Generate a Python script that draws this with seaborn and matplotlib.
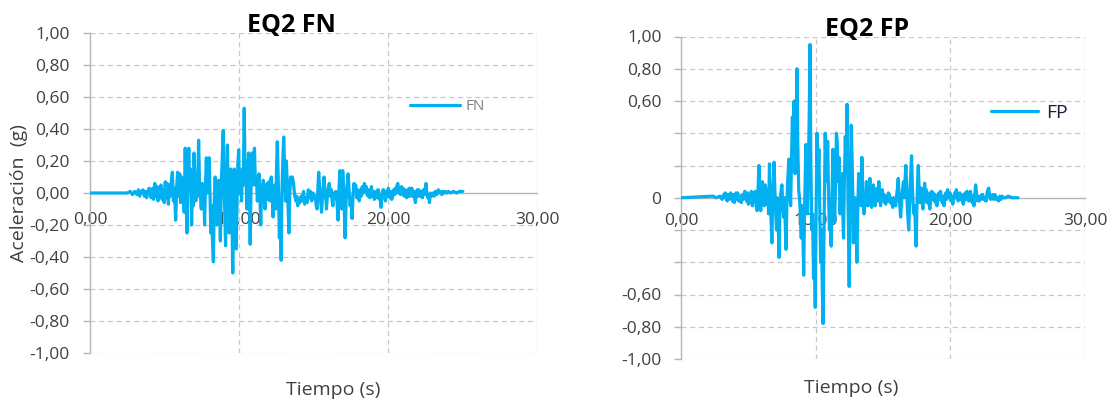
import matplotlib
matplotlib.use("Agg")
import matplotlib.pyplot as plt
import seaborn as sns
import pandas as pd

# Fault-normal record: time (s) and acceleration (g)
fn_time = [0.00, 2.50, 2.70, 2.85, 3.00, 3.15, 3.25, 3.33, 3.45, 3.56, 3.65, 3.72, 3.80, 3.90, 3.96,
           4.03, 4.10, 4.20, 4.27, 4.35, 4.42, 4.50, 4.56, 4.63, 4.70, 4.76, 4.84, 4.91, 4.98,
           5.05, 5.12, 5.18, 5.26, 5.33, 5.40, 5.47, 5.53, 5.60, 5.66, 5.75, 5.82, 5.88, 5.95,
           6.02, 6.08, 6.14, 6.20, 6.26, 6.32, 6.39, 6.45, 6.51, 6.57, 6.63, 6.69, 6.75, 6.82,
           6.88, 6.93, 6.98, 7.04, 7.10, 7.16, 7.22, 7.29, 7.35, 7.41, 7.47, 7.53, 7.57, 7.63,
           7.69, 7.75, 7.81, 7.86, 7.92, 8.00, 8.06, 8.11, 8.17, 8.22, 8.28, 8.34, 8.40, 8.46,
           8.51, 8.57, 8.63, 8.69, 8.75, 8.81, 8.87, 8.94, 9.00, 9.05, 9.10, 9.16, 9.22, 9.28,
           9.34, 9.40, 9.46, 9.52, 9.58, 9.63, 9.69, 9.75, 9.81, 9.87, 9.92, 9.98, 10.04, 10.10,
           10.17, 10.23, 10.29, 10.35, 10.41, 10.46, 10.52, 10.58, 10.64, 10.70, 10.75, 10.81,
           10.87, 10.93, 10.98, 11.04, 11.10, 11.17, 11.23, 11.29, 11.34, 11.40, 11.46, 11.52,
           11.58, 11.63, 11.69, 11.75, 11.82, 11.89, 11.95, 12.00, 12.06, 12.12, 12.17, 12.23,
           12.29, 12.35, 12.41, 12.47, 12.52, 12.57, 12.63, 12.68, 12.71, 12.77, 12.83, 12.88,
           12.94, 13.00, 13.06, 13.12, 13.18, 13.24, 13.30, 13.35, 13.41, 13.46, 13.51, 13.58,
           13.66, 13.74, 13.82, 13.88, 13.94, 14.00, 14.08, 14.17, 14.25, 14.33, 14.41, 14.49,
           14.57, 14.65, 14.73, 14.80, 14.88, 14.96, 15.04, 15.12, 15.18, 15.24, 15.30, 15.35,
           15.42, 15.48, 15.54, 15.60, 15.66, 15.71, 15.78, 15.84, 15.87, 15.93, 16.00, 16.06,
           16.13, 16.20, 16.25, 16.30, 16.37, 16.43, 16.49, 16.57, 16.65, 16.71, 16.77, 16.84,
           16.90, 16.96, 17.03, 17.08, 17.12, 17.19, 17.26, 17.32, 17.39, 17.46, 17.52, 17.59,
           17.66, 17.72, 17.78, 17.83, 17.90, 17.96, 18.02, 18.07, 18.14, 18.20, 18.27, 18.34,
           18.42, 18.48, 18.54, 18.60, 18.66, 18.72, 18.78, 18.84, 18.89, 18.96, 19.02, 19.08,
           19.13, 19.20, 19.26, 19.31, 19.36, 19.42, 19.48, 19.53, 19.60, 19.66, 19.72, 19.78,
           19.83, 19.90, 19.96, 20.02, 20.07, 20.13, 20.19, 20.25, 20.31, 20.38, 20.44, 20.50,
           20.56, 20.61, 20.66, 20.72, 20.78, 20.84, 20.90, 20.96, 21.02, 21.08, 21.14, 21.20,
           21.25, 21.32, 21.38, 21.44, 21.50, 21.55, 21.60, 21.66, 21.72, 21.78, 21.84, 21.90,
           21.96, 22.02, 22.08, 22.14, 22.20, 22.26, 22.31, 22.38, 22.44, 22.50, 22.55, 22.61,
           22.67, 22.73, 22.78, 22.85, 22.92, 23.02, 23.10, 23.18, 23.26, 23.37, 23.45, 23.52,
           23.61, 23.70, 23.78, 23.84, 23.95, 24.05, 24.20, 24.40, 24.60, 24.80, 25.02]
fn_accel = [0.00, 0.00, 0.01, -0.01, 0.01, -0.01, 0.02, -0.02, 0.01, 0.02, -0.02, 0.01, -0.03, 0.01, 0.03,
            0.02, -0.03, 0.03, -0.04, 0.06, -0.02, 0.04, -0.05, 0.03, -0.02, 0.05, -0.04, 0.02, -0.06,
            0.07, -0.03, 0.06, -0.07, 0.05, -0.02, 0.09, 0.13, -0.05, 0.03, -0.17, 0.04, 0.13, -0.02,
            0.12, -0.06, 0.10, -0.03, 0.05, -0.12, 0.28, -0.05, -0.25, 0.10, 0.28, 0.02, 0.15, -0.20,
            0.05, -0.08, 0.25, 0.10, -0.05, 0.08, -0.02, 0.33, 0.05, -0.02, -0.10, 0.06, -0.03, 0.05,
            -0.20, 0.05, 0.22, 0.00, 0.15, 0.22, -0.05, -0.25, -0.08, -0.30, -0.43, -0.05, 0.10, -0.05,
            -0.20, 0.05, 0.08, -0.10, -0.30, 0.05, 0.20, 0.39, 0.05, -0.15, -0.33, 0.05, 0.30, 0.00,
            -0.25, 0.05, 0.15, -0.10, -0.50, -0.10, 0.15, 0.05, -0.35, -0.05, 0.18, 0.27, 0.00, 0.12,
            -0.05, 0.15, 0.05, 0.53, 0.10, 0.20, -0.10, 0.05, 0.25, 0.05, -0.32, 0.05,
            0.25, 0.05, 0.20, 0.28, 0.05, 0.10, -0.05, 0.05, 0.12, -0.02, -0.20, 0.05,
            -0.05, 0.08, 0.00, -0.10, 0.02, 0.06, -0.04, 0.07, -0.05, 0.08, 0.10, -0.02,
            -0.15, 0.02, 0.05, -0.10, 0.15, 0.32, 0.10, -0.15, -0.28, -0.10, -0.42, 0.00,
            0.20, 0.35, 0.15, -0.05, 0.20, 0.05, -0.10, -0.25, 0.00, 0.10, 0.06, 0.10,
            0.06, -0.02, -0.05, -0.02, -0.08, -0.04, -0.06, -0.02, -0.05, 0.01, -0.07, -0.03,
            -0.06, 0.02, -0.03, 0.01, -0.05, 0.00, -0.03, -0.02, -0.08, -0.10, 0.04, 0.13,
            0.02, -0.05, -0.12, -0.02, 0.05, 0.10, 0.00, -0.05, -0.10, -0.02, 0.03, 0.06,
            -0.02, 0.02, -0.05, -0.08, 0.00, -0.03, 0.01, -0.05, -0.17, 0.02, 0.14, 0.05,
            -0.10, 0.14, 0.02, -0.15, -0.28, -0.05, 0.05, 0.12, 0.02, -0.08, -0.03, -0.16,
            0.00, 0.06, 0.02, 0.05, -0.03, 0.02, -0.02, -0.05, 0.02, -0.02, 0.04, 0.00,
            0.06, 0.01, 0.04, -0.01, -0.02, 0.02, -0.03, 0.01, 0.04, -0.02, 0.01, -0.04,
            -0.02, 0.01, -0.03, 0.02, 0.02, -0.04, -0.02, -0.09, -0.01, 0.02, 0.02, -0.03,
            -0.05, 0.01, -0.02, 0.03, 0.00, -0.03, 0.01, -0.04, -0.02, 0.02, -0.01, 0.03,
            0.00, 0.05, 0.06, 0.00, 0.03, -0.01, 0.04, 0.00, 0.03, -0.02, 0.02, -0.01,
            -0.03, 0.02, -0.02, 0.03, -0.02, 0.01, 0.03, -0.02, 0.01, -0.03, -0.06, 0.00,
            0.02, -0.02, 0.02, -0.02, 0.01, -0.02, -0.03, 0.02, -0.01, 0.03, 0.06, 0.00,
            -0.03, -0.01, -0.06, 0.00, -0.02, 0.00, -0.02, 0.01, -0.01, 0.02, 0.00, 0.01,
            -0.01, 0.01, 0.00, 0.01, 0.00, 0.01, 0.00, 0.01, 0.00, 0.01, 0.01]

# Fault-parallel record: time (s) and acceleration (g)
fp_time = [0.00, 2.38, 2.60, 2.91, 3.05, 3.18, 3.30, 3.36, 3.43, 3.50, 3.57, 3.63, 3.69, 3.76,
           3.82, 3.88, 3.95, 4.02, 4.08, 4.15, 4.21, 4.28, 4.35, 4.41, 4.48, 4.55, 4.61, 4.68,
           4.74, 4.81, 4.87, 4.94,
           5.00, 5.08, 5.15, 5.22, 5.30, 5.38, 5.45, 5.52, 5.58, 5.65, 5.72, 5.79, 5.85, 5.92,
           5.98, 6.05, 6.11, 6.18, 6.25, 6.31, 6.38, 6.44, 6.50, 6.57, 6.63, 6.69, 6.75, 6.81,
           6.86, 6.91, 6.97, 7.03, 7.09, 7.15, 7.21, 7.28, 7.34, 7.40, 7.49, 7.55, 7.62, 7.68,
           7.74, 7.80, 7.86, 7.92, 8.01, 8.07, 8.14, 8.20, 8.27, 8.33, 8.40, 8.47, 8.53, 8.61,
           8.67, 8.74, 8.80, 8.86, 8.93, 8.99, 9.05, 9.11, 9.17, 9.22, 9.27, 9.33, 9.40, 9.46,
           9.52, 9.58, 9.64, 9.71, 9.77, 9.84, 9.90, 9.97, 10.03, 10.10, 10.17, 10.24, 10.30,
           10.37, 10.43, 10.49, 10.55, 10.62, 10.71, 10.77, 10.83, 10.89, 10.95, 11.02, 11.08,
           11.15, 11.21, 11.28, 11.35, 11.41, 11.48, 11.54, 11.60, 11.67, 11.73, 11.78, 11.81,
           11.88, 11.94, 12.00, 12.07, 12.13, 12.20, 12.27, 12.33, 12.40, 12.45, 12.49, 12.56,
           12.64, 12.70, 12.76, 12.80, 12.87, 12.93, 13.00, 13.06, 13.12, 13.19, 13.25, 13.32,
           13.38, 13.43, 13.50, 13.59, 13.66, 13.72, 13.77, 13.84, 13.90, 13.96, 14.03, 14.09,
           14.16, 14.22, 14.29, 14.35, 14.42, 14.50,
           14.56, 14.62, 14.69, 14.75, 14.82, 14.88, 14.95, 15.02, 15.08, 15.14, 15.21, 15.28,
           15.34, 15.40, 15.47, 15.53, 15.60, 15.66, 15.73, 15.80, 15.87, 15.94, 16.00, 16.07,
           16.13, 16.19, 16.25, 16.31, 16.38, 16.45, 16.52, 16.58, 16.64, 16.70, 16.76, 16.82,
           16.87, 16.91, 16.97, 17.03, 17.08, 17.12, 17.18, 17.24, 17.30, 17.36, 17.41, 17.46,
           17.52, 17.57, 17.62, 17.68, 17.74, 17.78, 17.83, 17.90, 17.96, 18.02, 18.09, 18.15,
           18.21, 18.26, 18.30, 18.36, 18.42, 18.48, 18.55, 18.61, 18.67, 18.74, 18.80, 18.86,
           18.92, 19.01, 19.08, 19.14, 19.20, 19.27, 19.33, 19.40, 19.46, 19.53, 19.60, 19.66,
           19.72, 19.79, 19.85, 19.92, 19.98, 20.05, 20.11, 20.18, 20.25, 20.32, 20.38, 20.45,
           20.52, 20.58, 20.65, 20.71, 20.78, 20.84, 20.91, 20.97, 21.04, 21.10, 21.17, 21.23,
           21.30, 21.36, 21.43, 21.49, 21.56, 21.62, 21.68, 21.75, 21.82, 21.88, 21.95, 22.02,
           22.08, 22.15, 22.22, 22.28, 22.35, 22.41, 22.48, 22.54, 22.61, 22.67, 22.73, 22.79,
           22.85, 22.91, 22.98, 23.06, 23.13, 23.20, 23.26, 23.32, 23.40, 23.48, 23.59, 23.68,
           23.76, 23.85, 23.95, 24.11, 24.30, 24.60, 25.03]
fp_accel = [0.00, 0.01, 0.00, 0.01, -0.01, 0.02, 0.03, -0.01, -0.02, 0.02, -0.01, 0.01, 0.03, 0.00,
            -0.02, 0.02, -0.03, 0.01, 0.03, -0.01, 0.03, -0.02, 0.01, -0.02, -0.03, 0.02, -0.01, 0.02,
            0.04, 0.00, -0.02, 0.03,
            -0.04, 0.02, -0.03, 0.04, -0.05, 0.03, -0.02, 0.04, -0.05, -0.08, 0.05, 0.20, 0.02, -0.08,
            0.03, 0.10, -0.02, -0.05, 0.08, -0.04, 0.02, 0.05, -0.10, 0.21, 0.00, -0.15, -0.28, 0.00,
            0.10, 0.22, 0.05, -0.08, -0.20, 0.00, -0.10, -0.37, -0.10, 0.02, 0.08, -0.03, -0.12, 0.00,
            -0.15, -0.32, -0.05, 0.10, 0.24, 0.05, -0.05, 0.20, 0.50, 0.35, 0.60, 0.15, 0.30, 0.80,
            0.35, 0.05, 0.00, -0.10, -0.25, -0.05, -0.20, -0.48, -0.10, 0.10, 0.33, 0.05, -0.10, 0.20,
            0.50, 0.95, 0.25, -0.20, -0.10, -0.50, -0.30, -0.68, -0.10, 0.40, 0.10, 0.30, -0.05,
            -0.40, -0.20, -0.55, -0.78, -0.20, 0.40, 0.10, 0.20, 0.35, 0.05, -0.20, -0.10,
            -0.30, 0.00, 0.30, 0.10, -0.15, 0.10, 0.40, 0.35, 0.10, 0.25, 0.05, -0.10,
            0.05, 0.15, -0.05, -0.25, 0.10, 0.38, 0.20, 0.58, 0.00, -0.30, -0.55, 0.00,
            0.45, 0.25, 0.00, -0.28, -0.10, 0.00, -0.15, -0.40, -0.10, 0.15, 0.00, 0.10,
            -0.05, 0.25, 0.05, -0.10, 0.02, -0.05, 0.10, 0.00, -0.05, 0.05, 0.12, 0.00,
            -0.06, 0.03, 0.08, -0.02, -0.05, 0.03,
            0.06, -0.02, 0.10, 0.02, -0.05, 0.01, 0.05, -0.02, 0.02, -0.03, -0.04, 0.01,
            -0.02, 0.03, 0.02, -0.03, 0.00, -0.04, -0.06, 0.00, -0.03, -0.05, 0.00, 0.06,
            0.12, 0.02, -0.05, -0.12, -0.02, 0.05, 0.10, 0.00, 0.12, 0.20, 0.05, -0.08,
            -0.15, -0.20, -0.05, 0.10, 0.18, 0.26, 0.08, -0.05, -0.10, -0.05, -0.20, -0.30,
            -0.05, 0.10, 0.20, 0.05, -0.03, 0.02, 0.06, -0.02, -0.07, 0.00, 0.09, 0.02,
            0.05, -0.03, -0.02, 0.03, -0.04, -0.07, 0.00, 0.04, 0.00, 0.03, -0.02, 0.02,
            -0.03, -0.05, 0.01, 0.03, -0.01, 0.04, 0.00, -0.03, 0.01, -0.05, 0.01, 0.03,
            -0.01, 0.05, 0.02, 0.00, 0.03, -0.02, 0.01, -0.04, 0.00, 0.03, 0.00, 0.05,
            0.01, -0.02, 0.01, 0.03, -0.01, 0.02, -0.03, -0.04, 0.00, 0.03, -0.01, 0.04,
            0.01, -0.02, 0.02, 0.04, 0.00, -0.03, 0.01, -0.05, 0.02, 0.08, 0.02, -0.02,
            0.01, -0.02, 0.01, -0.01, 0.02, 0.02, -0.01, 0.00, -0.02, -0.02, 0.03, 0.05,
            0.06, 0.02, -0.01, 0.00, 0.02, -0.01, 0.01, 0.02, -0.01, 0.00, -0.02, 0.01,
            -0.01, 0.01, 0.00, 0.00, 0.01, 0.00, 0.00]

y_ticks = [1.0, 0.8, 0.6, 0.4, 0.2, 0.0, -0.2, -0.4, -0.6, -0.8, -1.0]
fn_ytick_labels = ["1,00", "0,80", "0,60", "0,40", "0,20", "0,00",
                   "-0,20", "-0,40", "-0,60", "-0,80", "-1,00"]
fp_ytick_labels = ["1,00", "0,80", "0,60", "", "", "0",
                   "", "", "-0,60", "-0,80", "-1,00"]
x_ticks = [0, 10, 20, 30]
x_tick_labels = ["0,00", "10,00", "20,00", "30,00"]

LINE = "#00B0F0"
GRID = "#C8C8C8"
AXIS = "#B4B4B4"
TEXT = "#404040"
TICK_FS = 12.5

sns.set_theme(style="white")
plt.rcParams["font.family"] = ["Open Sans", "DejaVu Sans"]

W, H = 1109, 401
fig = plt.figure(figsize=(W / 100, H / 100), dpi=100)


def px_box(x0, x1, y0, y1):
    return [x0 / W, 1 - y1 / H, (x1 - x0) / W, (y1 - y0) / H]


def style_axes(ax, ylabels, ypad, xpad):
    ax.set_xlim(0, 30)
    ax.set_ylim(-1, 1)
    ax.set_yticks(y_ticks)
    ax.set_yticklabels(ylabels)
    ax.set_xticks(x_ticks)
    ax.set_xticklabels(x_tick_labels)
    for s in ["top", "right"]:
        ax.spines[s].set_visible(False)
    ax.spines["left"].set_color(AXIS)
    ax.spines["left"].set_linewidth(1.0)
    ax.spines["bottom"].set_position(("data", 0))
    ax.spines["bottom"].set_color(AXIS)
    ax.spines["bottom"].set_linewidth(1.0)
    ax.spines["bottom"].set_zorder(1)
    ax.tick_params(axis="y", direction="out", length=5, width=1, color=AXIS,
                   labelsize=TICK_FS, labelcolor=TEXT, pad=ypad, left=True)
    ax.tick_params(axis="x", length=0, labelsize=TICK_FS, labelcolor=TEXT,
                   pad=xpad, bottom=True)
    for y in y_ticks:
        if y != 0:
            ax.axhline(y, color=GRID, lw=0.9, ls=(0, (4, 3)), zorder=0)
    for x in x_ticks[1:]:
        ax.axvline(x, color=GRID, lw=0.9, ls=(0, (4, 3)), zorder=0)
    ax.set_xlabel("")
    ax.set_ylabel("")


# Left panel: fault-normal component
ax1 = fig.add_axes(px_box(90, 537, 33, 353))
fn_df = pd.DataFrame({"t": fn_time, "a": fn_accel, "s": "FN"})
sns.lineplot(data=fn_df, x="t", y="a", hue="s", palette=[LINE], lw=2.3,
             sort=False, ax=ax1, zorder=3)
style_axes(ax1, fn_ytick_labels, 9.5, 14)
leg1 = ax1.legend(loc="center left", bbox_to_anchor=(410 / W, 1 - 107 / H),
                  bbox_transform=fig.transFigure, frameon=False,
                  borderpad=0, borderaxespad=0,
                  handlelength=3.3, handletextpad=0.33, fontsize=11)
for t in leg1.get_texts():
    t.set_color("#7F7F7F")
for h in leg1.get_lines():
    h.set_linewidth(2.3)

# Right panel: fault-parallel component
ax2 = fig.add_axes(px_box(681, 1085, 36.5, 359))
fp_df = pd.DataFrame({"t": fp_time, "a": fp_accel, "s": "FP"})
sns.lineplot(data=fp_df, x="t", y="a", hue="s", palette=[LINE], lw=2.3,
             sort=False, ax=ax2, zorder=3)
style_axes(ax2, fp_ytick_labels, 9, 11)
leg2 = ax2.legend(loc="center left", bbox_to_anchor=(991 / W, 1 - 113 / H),
                  bbox_transform=fig.transFigure, frameon=False,
                  borderpad=0, borderaxespad=0,
                  handlelength=2.4, handletextpad=0.45, fontsize=14)
for t in leg2.get_texts():
    t.set_color("#1F1F3A")
for h in leg2.get_lines():
    h.set_linewidth(2.3)

# Titles and axis captions
fig.text(291 / W, 1 - 25 / H, "EQ2 FN", ha="center", va="center",
         fontsize=18, fontweight="bold", color="black")
fig.text(867 / W, 1 - 30 / H, "EQ2 FP", ha="center", va="center",
         fontsize=18, fontweight="bold", color="black")
fig.text(19 / W, 1 - 193 / H, "Aceleración  (g)", ha="center", va="center",
         rotation=90, fontsize=14, color=TEXT)
fig.text(333 / W, 1 - 390 / H, "Tiempo (s)", ha="center", va="center",
         fontsize=14, color=TEXT)
fig.text(851 / W, 1 - 388 / H, "Tiempo (s)", ha="center", va="center",
         fontsize=14, color=TEXT)

fig.savefig("out.png", dpi=100, facecolor="white")
